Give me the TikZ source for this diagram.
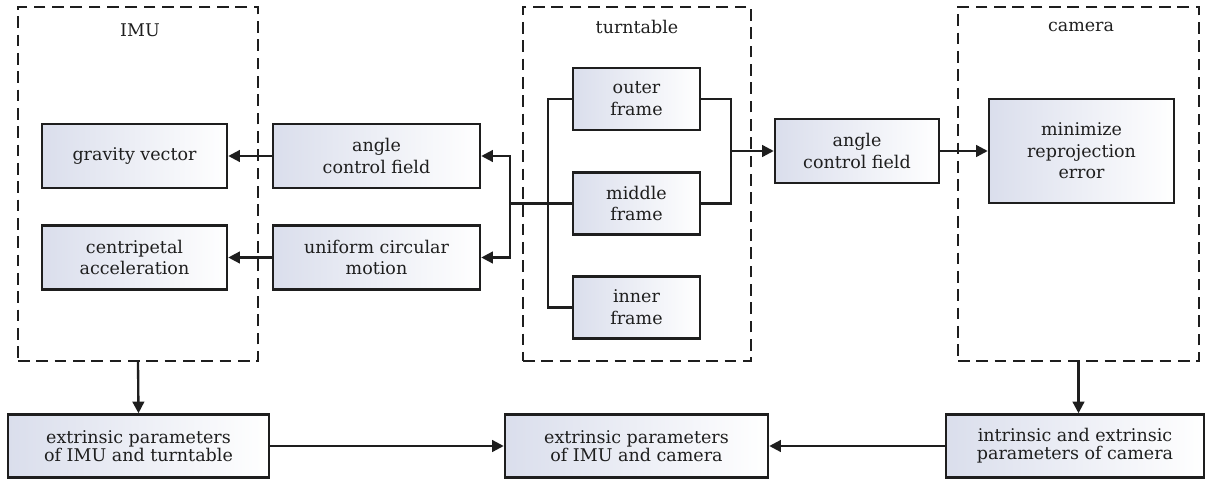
\documentclass[tikz,border=0pt]{standalone}
\usepackage{fontspec}
\setmainfont{DejaVu Serif}
\usetikzlibrary{arrows.meta}
\definecolor{boxshade}{RGB}{218,222,236}
\definecolor{ink}{RGB}{30,30,30}
\tikzset{
  blk/.style={draw=ink, line width=1.5pt, left color=boxshade, right color=white,
    align=center, inner sep=2pt, text=ink, font=\fontsize{10.5}{13}\selectfont},
  low/.style={blk, font=\fontsize{10.5}{11}\selectfont},
  grp/.style={draw=ink, line width=1pt, dash pattern=on 7pt off 4pt},
  ttl/.style={text=ink, font=\fontsize{10.5}{13}\selectfont},
  lnk/.style={draw=ink, line width=1.4pt},
  arr/.style={lnk, -{Triangle[length=7pt,width=7pt]}}
}
\begin{document}
\begin{tikzpicture}[x=0.6pt,y=-0.6pt]
\useasboundingbox (0,0) rectangle (1207,482);
% dashed groups
\node[grp, minimum width=144pt, minimum height=212.4pt] (imu) at (138,184) {};
\node[grp, minimum width=136.8pt, minimum height=212.4pt] (tt) at (637,184) {};
\node[grp, minimum width=144.6pt, minimum height=212.4pt] (cam) at (1078.5,184) {};
\node[ttl] (imulbl) at (140,30) {IMU};
\node[ttl] (ttlbl) at (637,27) {turntable};
\node[ttl] (camlbl) at (1081,27) {camera};
% blocks
\node[blk, minimum width=111pt, minimum height=38.4pt] (gv) at (134.5,156) {gravity vector};
\node[blk, minimum width=111pt, minimum height=38.4pt] (ca) at (134.5,257.5) {centripetal\\acceleration};
\node[blk, minimum width=124.2pt, minimum height=38.4pt] (acfa) at (376.5,156) {angle\\control field};
\node[blk, minimum width=124.2pt, minimum height=38.4pt] (ucm) at (376.5,257.5) {uniform circular\\motion};
\node[blk, minimum width=76.2pt, minimum height=37.2pt] (outer) at (636.5,99) {outer\\frame};
\node[blk, minimum width=76.2pt, minimum height=37.2pt] (middle) at (636.5,203.5) {middle\\frame};
\node[blk, minimum width=76.2pt, minimum height=37.2pt] (inner) at (636.5,307.5) {inner\\frame};
\node[blk, minimum width=98.4pt, minimum height=38.4pt] (acfb) at (857,151) {angle\\control field};
\node[blk, minimum width=111pt, minimum height=62.4pt] (minerr) at (1081.5,151) {minimize\\reprojection\\error};
\node[low, minimum width=156.6pt, minimum height=37.8pt] (extit) at (138.5,446) {extrinsic parameters\\of IMU and turntable};
\node[low, minimum width=157.8pt, minimum height=37.8pt] (extic) at (636.5,446) {extrinsic parameters\\of IMU and camera};
\node[low, minimum width=154.8pt, minimum height=37.8pt] (intc) at (1075,446) {intrinsic and extrinsic\\parameters of camera};
% bus points
\coordinate (jl) at (510,203.5);
\coordinate (bl) at (548,203.5);
\coordinate (br) at (731,151);
% connectors
\draw[lnk] (outer.west) -| (bl) |- (inner.west);
\draw[lnk] (middle.west) -- (jl);
\draw[arr] (jl) |- (acfa.east);
\draw[arr] (jl) |- (ucm.east);
\draw[lnk] (outer.east) -| (br) |- (middle.east);
\foreach \from/\to in {acfa/gv,ucm/ca,br/acfb,acfb/minerr}
  \draw[arr] (\from) -- (\to);
\draw[arr] (imu.south) -- (extit.north);
\draw[arr] (cam.south) -- (cam.south |- intc.north);
\draw[arr] (extit) -- (extic);
\draw[arr] (intc) -- (extic);
\end{tikzpicture}
\end{document}
